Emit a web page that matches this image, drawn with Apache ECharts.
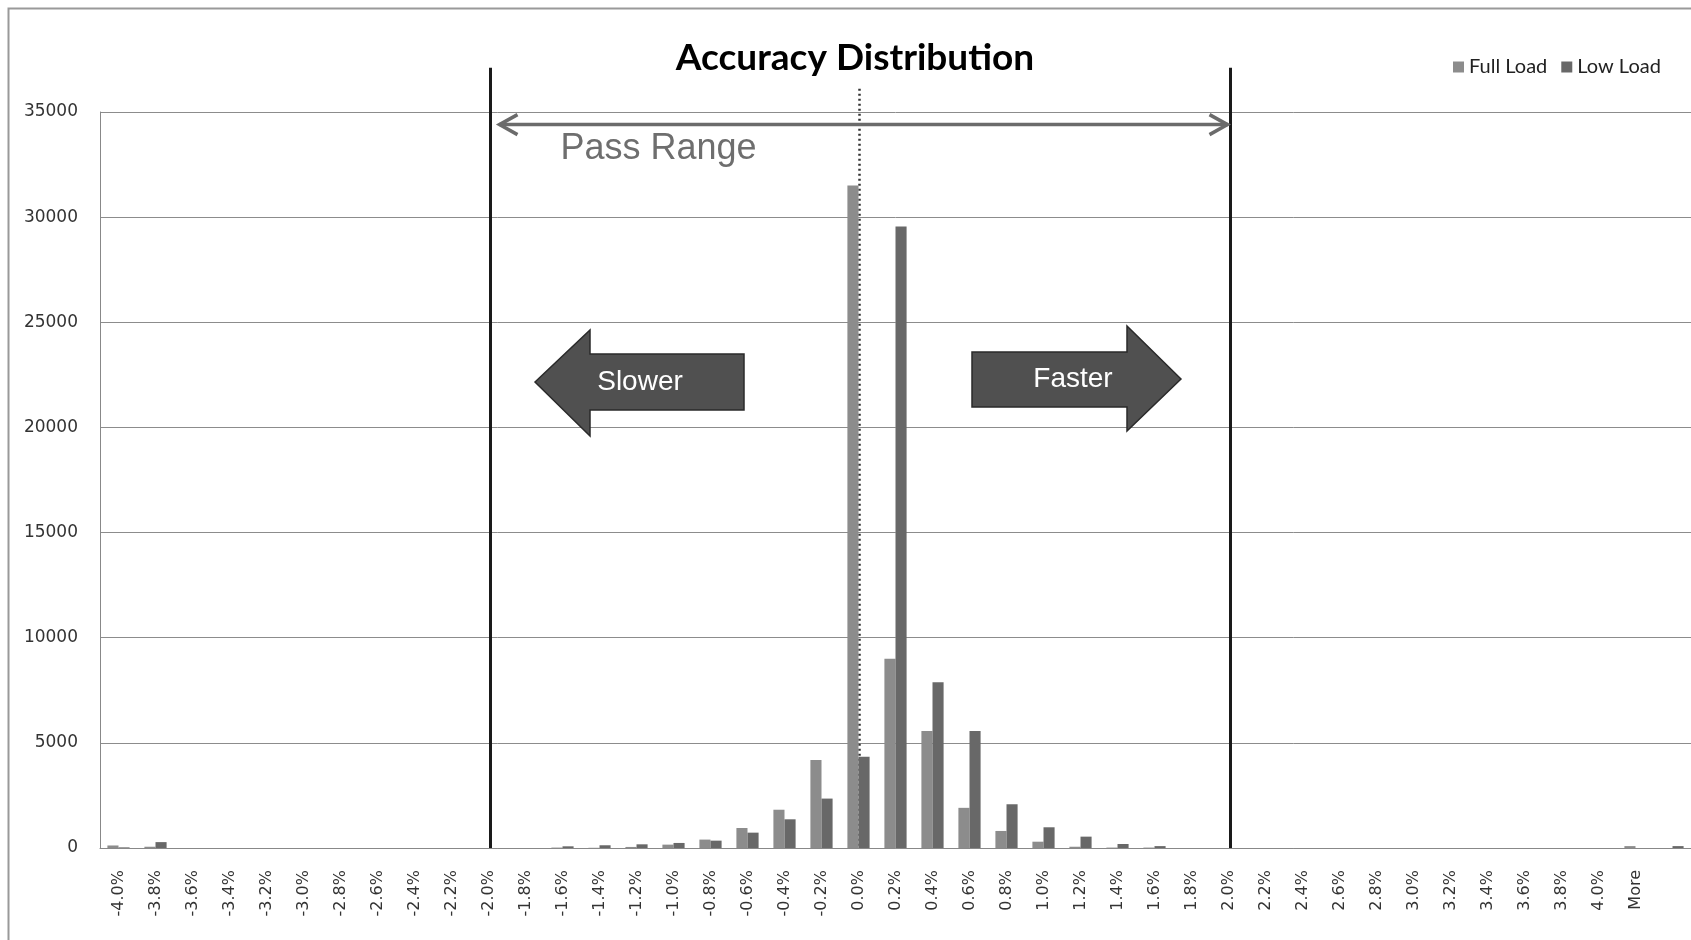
<!DOCTYPE html>
<html><head><meta charset="utf-8">
<script src="https://cdn.jsdelivr.net/npm/echarts@6/dist/echarts.min.js"></script>
<style>html,body{margin:0;padding:0;background:#fff}#c{width:1691px;height:940px}</style>
</head><body><div id="c"></div>
<script>
const categories = ['-4.0%','-3.8%','-3.6%','-3.4%','-3.2%','-3.0%','-2.8%','-2.6%','-2.4%','-2.2%',
  '-2.0%','-1.8%','-1.6%','-1.4%','-1.2%','-1.0%','-0.8%','-0.6%','-0.4%','-0.2%',
  '0.0%','0.2%','0.4%','0.6%','0.8%','1.0%','1.2%','1.4%','1.6%','1.8%',
  '2.0%','2.2%','2.4%','2.6%','2.8%','3.0%','3.2%','3.4%','3.6%','3.8%',
  '4.0%','More',''];
const fullLoad = [120,60,0,0,0,0,0,0,0,0,
  0,0,20,10,50,160,400,950,1820,4180,
  31500,9000,5560,1910,810,300,60,20,20,0,
  0,0,0,0,0,0,0,0,0,0,
  0,90,0];
const lowLoad = [30,280,0,0,0,0,0,0,0,0,
  0,0,80,130,175,240,350,730,1365,2350,
  4340,29550,7880,5560,2080,985,540,190,90,0,
  0,0,0,0,0,0,0,0,0,0,
  0,0,90];
const seriesNames = ['Full Load','Low Load'];
const yMin = 0, yMax = 35000, yStep = 5000;

const chart = echarts.init(document.getElementById('c'), null, {renderer:'canvas'});
chart.setOption({
  backgroundColor:'#fff',
  animation:false,
  title:{text:'Accuracy Distribution', left:850, top:35, textAlign:'center',
    textStyle:{fontFamily:'Lato', fontWeight:'bold', fontSize:37, color:'#000'}},
  legend:{data:seriesNames, left:1448, top:52, itemWidth:11, itemHeight:11, itemGap:14, icon:'rect',
    textStyle:{fontFamily:'Lato', fontSize:20, color:'#222'}},
  grid:{left:100, right:0, top:112, bottom:92, containLabel:false},
  xAxis:{type:'category', data:categories, axisTick:{show:false},
    axisLine:{lineStyle:{color:'#888', width:1}},
    axisLabel:{rotate:90, margin:22, interval:0, fontFamily:'DejaVu Sans', fontSize:16, color:'#333'}},
  yAxis:{type:'value', min:yMin, max:yMax, interval:yStep,
    axisLine:{show:true, lineStyle:{color:'#888'}}, axisTick:{show:false},
    splitLine:{lineStyle:{color:'#8c8c8c', width:1}},
    axisLabel:{margin:22, fontFamily:'DejaVu Sans', fontSize:17, color:'#333', formatter:v => String(v)}},
  series:[
    {name:seriesNames[0], type:'bar', data:fullLoad, barGap:'0%', barCategoryGap:'40%',
      itemStyle:{color:'#8c8c8c'}},
    {name:seriesNames[1], type:'bar', data:lowLoad, barGap:'0%', barCategoryGap:'40%',
      itemStyle:{color:'#686868'}}
  ]
});

function px(cat, v){ return chart.convertToPixel({gridIndex:0}, [categories.indexOf(cat), v]); }
const L = px('-2.0%', 0), R = px('2.0%', 0), Z = px('0.0%', 0);
const lTop = px('-2.0%', 37100)[1], rTop = px('2.0%', 37100)[1];
const dTop = px('0.0%', 36100)[1];
const arrY = px('0.0%', 34400)[1];
const passY = px('0.0%', 33240)[1];
const xL = L[0] + 2, xR = R[0] + 2;
const ax1 = xL + 9, ax2 = xR - 3;
chart.setOption({graphic:[
  {type:'rect', shape:{x:8.5, y:8.5, width:1700, height:950}, style:{fill:'none', stroke:'#999', lineWidth:2}, z:0},
  {type:'line', shape:{x1:xL, y1:lTop, x2:xL, y2:L[1]}, style:{stroke:'#1a1a1a', lineWidth:3}, z:100},
  {type:'line', shape:{x1:xR, y1:rTop, x2:xR, y2:R[1]}, style:{stroke:'#1a1a1a', lineWidth:3}, z:100},
  {type:'line', shape:{x1:Z[0]+1, y1:dTop, x2:Z[0]+1, y2:Z[1]}, style:{stroke:'#333', lineWidth:2.5, lineDash:[2,3]}, z:1},
  {type:'line', shape:{x1:ax1, y1:arrY, x2:ax2, y2:arrY}, style:{stroke:'#6b6b6b', lineWidth:3.5}, z:100},
  {type:'polyline', shape:{points:[[ax1+18, arrY-10],[ax1, arrY],[ax1+18, arrY+10]]}, style:{stroke:'#6b6b6b', lineWidth:3.5, fill:'none'}, z:100},
  {type:'polyline', shape:{points:[[ax2-18, arrY-10],[ax2, arrY],[ax2-18, arrY+10]]}, style:{stroke:'#6b6b6b', lineWidth:3.5, fill:'none'}, z:100},
  {type:'text', x:xL+70, y:passY, style:{text:'Pass Range', fontFamily:'Liberation Sans', fontSize:36, fill:'#6e6e6e', textVerticalAlign:'middle'}, z:100},
  {type:'polygon', shape:{points:[[535,382],[590,330],[590,354],[744,354],[744,410],[590,410],[590,436]]},
    style:{fill:'#505050', stroke:'#2a2a2a', lineWidth:1.5}, z:100},
  {type:'text', x:640, y:382, style:{text:'Slower', fontFamily:'Liberation Sans', fontSize:28, fill:'#fff', textAlign:'center', textVerticalAlign:'middle'}, z:101},
  {type:'polygon', shape:{points:[[1181,379],[1127,326],[1127,352],[972,352],[972,407],[1127,407],[1127,431]]},
    style:{fill:'#505050', stroke:'#2a2a2a', lineWidth:1.5}, z:100},
  {type:'text', x:1073, y:379, style:{text:'Faster', fontFamily:'Liberation Sans', fontSize:28, fill:'#fff', textAlign:'center', textVerticalAlign:'middle'}, z:101}
]});
</script></body></html>
